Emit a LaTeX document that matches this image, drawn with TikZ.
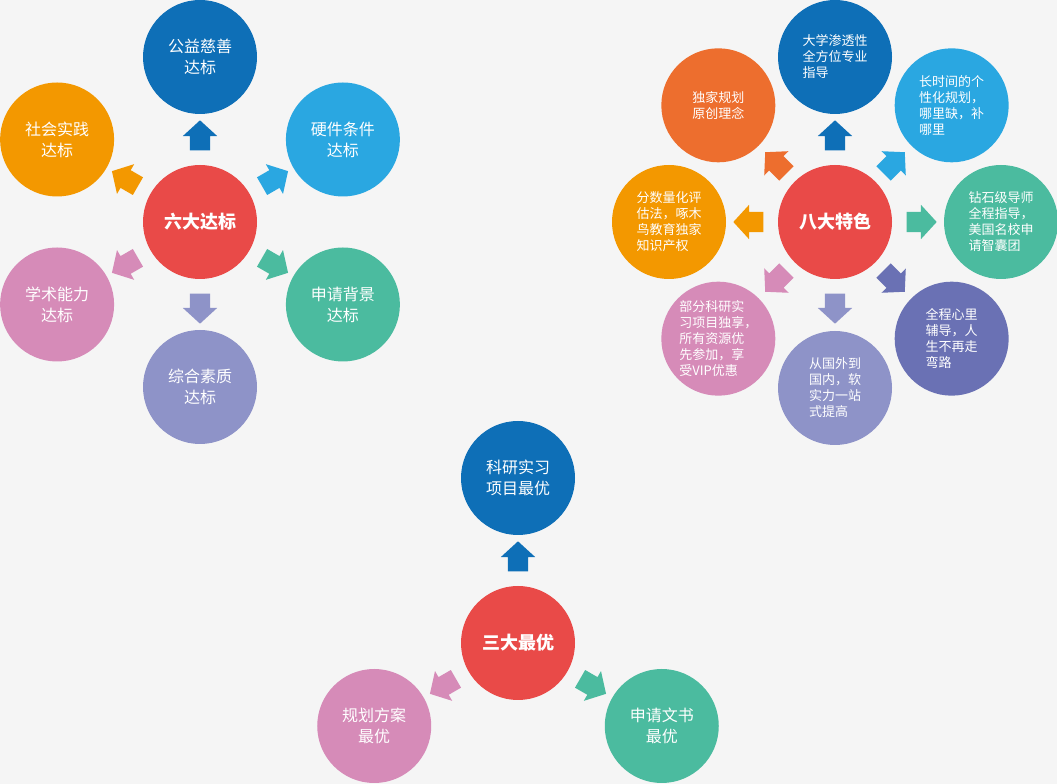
\documentclass[tikz,border=0pt]{standalone}
\usepackage{fontspec}
\setmainfont{Noto Sans CJK SC}
\usetikzlibrary{shapes.arrows}

\definecolor{pagegray}{HTML}{F5F5F5}
\definecolor{hubred}{HTML}{E94A48}
\definecolor{deepblue}{HTML}{0E6FB7}
\definecolor{skyblue}{HTML}{2AA7E1}
\definecolor{amber}{HTML}{F39800}
\definecolor{tangerine}{HTML}{ED6E2E}
\definecolor{seagreen}{HTML}{4BBB9F}
\definecolor{rosepink}{HTML}{D68BB8}
\definecolor{lavender}{HTML}{8E93C8}
\definecolor{slateviolet}{HTML}{6A71B4}

\begin{document}
\begin{tikzpicture}[x=1pt, y=1pt,
  bubble/.style={circle, fill=#1, minimum size=114pt, inner sep=0pt, text=white,
    align=center, font=\fontsize{16}{21}\selectfont},
  smallbubble/.style={bubble=#1, align=left, font=\fontsize{13}{16}\selectfont},
  hub/.style={bubble=hubred, font=\fontsize{18}{22}\selectfont\bfseries},
  pointer/.style={single arrow, fill=#1, draw=none, inner xsep=0pt, inner ysep=10pt,
    text height=0pt, text depth=0pt, text width=0pt,
    minimum height=30pt, minimum width=34pt,
    single arrow head extend=7pt, single arrow tip angle=95}]

% background
\fill[pagegray] (0,0) rectangle (1057,784);
\useasboundingbox (0,0) rectangle (1057,784);

% six standards
\begin{scope}[shift={(200,562)}]
\node[hub] (six) at (0,0) {六大达标};
\node[bubble=deepblue] (sixTop) at (90:165) {公益慈善\\达标};
\node[bubble=amber] (sixUL) at (150:165) {社会实践\\达标};
\node[bubble=skyblue] (sixUR) at (30:165) {硬件条件\\达标};
\node[bubble=rosepink] (sixLL) at (210:165) {学术能力\\达标};
\node[bubble=seagreen] (sixLR) at (330:165) {申请背景\\达标};
\node[bubble=lavender] (sixBot) at (270:165) {综合素质\\达标};
\node[pointer=deepblue, rotate=90] (sixArrTop) at (90:82) {};
\node[pointer=amber, rotate=150] (sixArrUL) at (150:82) {};
\node[pointer=skyblue, rotate=30] (sixArrUR) at (30:82) {};
\node[pointer=rosepink, rotate=210] (sixArrLL) at (210:82) {};
\node[pointer=seagreen, rotate=330] (sixArrLR) at (330:82) {};
\node[pointer=lavender, rotate=270] (sixArrBot) at (270:82) {};
\end{scope}

% eight features
\begin{scope}[shift={(835,562)}]
\node[hub] (eight) at (0,0) {八大特色};
\node[smallbubble=deepblue] (eightN) at (90:165) {大学渗透性\\全方位专业\\指导};
\node[smallbubble=tangerine, align=center] (eightNW) at (135:165) {独家规划\\原创理念};
\node[smallbubble=skyblue] (eightNE) at (45:165) {长时间的个\\性化规划，\\哪里缺，补\\哪里};
\node[smallbubble=amber] (eightW) at (180:166) {分数量化评\\估法，啄木\\鸟教育独家\\知识产权};
\node[smallbubble=seagreen] (eightE) at (0:166) {钻石级导师\\全程指导，\\美国名校申\\请智囊团};
\node[smallbubble=rosepink] (eightSW) at (225:165) {部分科研实\\习项目独享，\\所有资源优\\先参加，享\\受VIP优惠};
\node[smallbubble=lavender] (eightS) at (270:166) {从国外到\\国内，软\\实力一站\\式提高};
\node[smallbubble=slateviolet] (eightSE) at (315:165) {全程心里\\辅导，人\\生不再走\\弯路};
\node[pointer=deepblue, rotate=90] (eightArrN) at (90:82) {};
\node[pointer=tangerine, rotate=135] (eightArrNW) at (135:79) {};
\node[pointer=skyblue, rotate=45] (eightArrNE) at (45:79) {};
\node[pointer=amber, rotate=180] (eightArrW) at (180:82) {};
\node[pointer=seagreen, rotate=0] (eightArrE) at (0:82) {};
\node[pointer=rosepink, rotate=225] (eightArrSW) at (225:79) {};
\node[pointer=lavender, rotate=270] (eightArrS) at (270:82) {};
\node[pointer=slateviolet, rotate=315] (eightArrSE) at (315:79) {};
\end{scope}

% three best
\begin{scope}[shift={(518,141)}]
\node[hub] (three) at (0,0) {三大最优};
\node[bubble=deepblue] (threeTop) at (90:165) {科研实习\\项目最优};
\node[bubble=rosepink] (threeLL) at (210:166) {规划方案\\最优};
\node[bubble=seagreen] (threeLR) at (330:166) {申请文书\\最优};
\node[pointer=deepblue, rotate=90] (threeArrTop) at (90:82) {};
\node[pointer=rosepink, rotate=210] (threeArrLL) at (210:82) {};
\node[pointer=seagreen, rotate=330] (threeArrLR) at (330:82) {};
\end{scope}
\end{tikzpicture}
\end{document}
